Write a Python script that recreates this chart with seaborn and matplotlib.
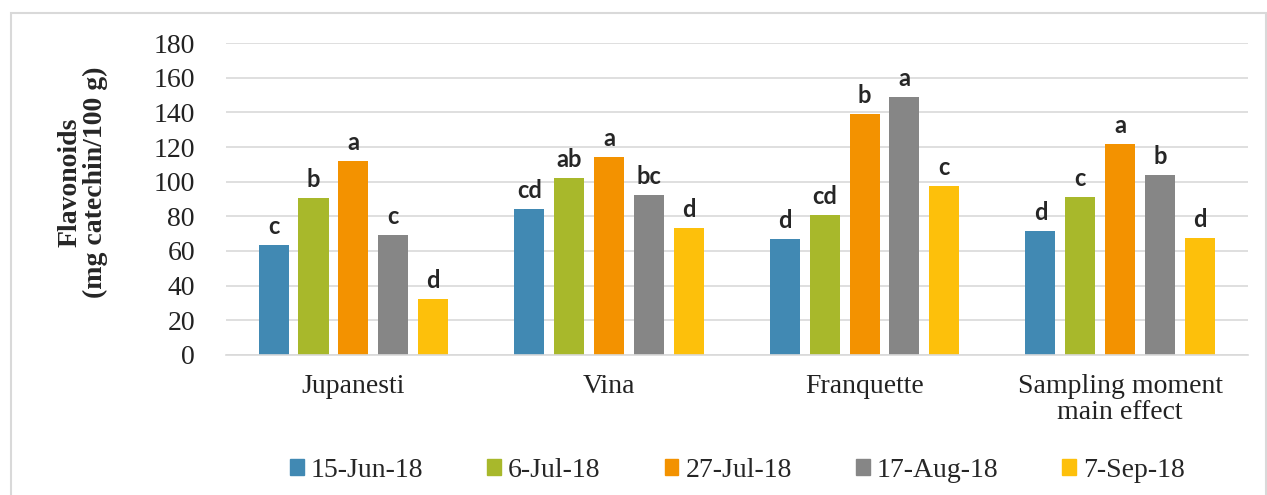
import matplotlib
matplotlib.use("Agg")
import matplotlib.pyplot as plt
import matplotlib.patches as mpatches
import pandas as pd
import seaborn as sns

CULTIVARS = ["Jupanesti", "Vina", "Franquette", "Sampling moment\nmain effect"]
DATES = ["15-Jun-18", "6-Jul-18", "27-Jul-18", "17-Aug-18", "7-Sep-18"]
COLORS = ["#4189b3", "#a8b82b", "#f39200", "#868686", "#fdc00b"]

VALUES = {
    "15-Jun-18": [63.5, 84.0, 67.0, 71.5],
    "6-Jul-18": [90.4, 102.3, 80.8, 91.2],
    "27-Jul-18": [112.0, 114.2, 138.9, 121.8],
    "17-Aug-18": [69.0, 92.1, 148.9, 103.7],
    "7-Sep-18": [32.5, 73.5, 97.3, 67.7],
}
LETTERS = {
    "15-Jun-18": ["c", "cd", "d", "d"],
    "6-Jul-18": ["b", "ab", "cd", "c"],
    "27-Jul-18": ["a", "a", "b", "a"],
    "17-Aug-18": ["c", "bc", "a", "b"],
    "7-Sep-18": ["d", "d", "c", "d"],
}


def main() -> None:
    sns.set_theme(style="whitegrid")
    rows = [
        {"cultivar": c, "date": d, "value": VALUES[d][i]}
        for d in DATES
        for i, c in enumerate(CULTIVARS)
    ]
    frame = pd.DataFrame(rows)

    fig = plt.figure(figsize=(12.67, 4.95), dpi=100)
    ax = fig.add_axes([0.178, 0.283, 0.807, 0.63])
    sns.barplot(
        data=frame, x="cultivar", y="value", hue="date",
        order=CULTIVARS, hue_order=DATES, palette=COLORS,
        width=0.78, gap=0.245, ax=ax, errorbar=None, saturation=1,
        edgecolor="none",
    )
    serif = "Liberation Serif"
    ax.set_ylim(0, 180)
    ax.set_yticks(range(0, 181, 20))
    ax.set_xlim(-0.5, 3.5)
    ax.grid(axis="y", color="#d9d9d9", linewidth=1.2)
    ax.grid(axis="x", visible=False)
    ax.set_facecolor("white")
    for s in ["top", "right", "left"]:
        ax.spines[s].set_visible(False)
    ax.spines["bottom"].set_color("#d9d9d9")
    ax.spines["bottom"].set_linewidth(1.2)
    ax.tick_params(axis="y", length=0, pad=22)
    ax.tick_params(axis="x", length=0, pad=14)
    for lab in ax.get_yticklabels() + ax.get_xticklabels():
        lab.set_fontfamily(serif)
        lab.set_fontsize(20)
        lab.set_color("#222222")
        lab.set_linespacing(1.05)
    ax.set_xlabel("")
    ax.set_ylabel("Flavonoids\n(mg catechin/100 g)", fontfamily=serif,
                  fontsize=20, fontweight="bold", linespacing=1.0)
    ax.yaxis.set_label_coords(-0.115, 0.555)

    for container, date in zip(ax.containers, DATES):
        ax.bar_label(container, labels=LETTERS[date], padding=5,
                     fontsize=17, fontweight="bold", fontfamily="Lato")

    ax.get_legend().remove()
    handles = [mpatches.Patch(color=c, label=d) for c, d in zip(COLORS, DATES)]
    fig.legend(handles=handles, loc="center", bbox_to_anchor=(0.582, 0.05),
               ncol=5, frameon=False, handlelength=0.5, handleheight=0.5,
               handletextpad=0.25, columnspacing=2.3,
               prop={"family": serif, "size": 20})

    fig.patches.append(mpatches.Rectangle(
        (0.009, -0.01), 0.99, 0.984, transform=fig.transFigure,
        fill=False, edgecolor="#d9d9d9", linewidth=1.5))
    fig.savefig("out.png", dpi=100, facecolor="white")


if __name__ == "__main__":
    main()
